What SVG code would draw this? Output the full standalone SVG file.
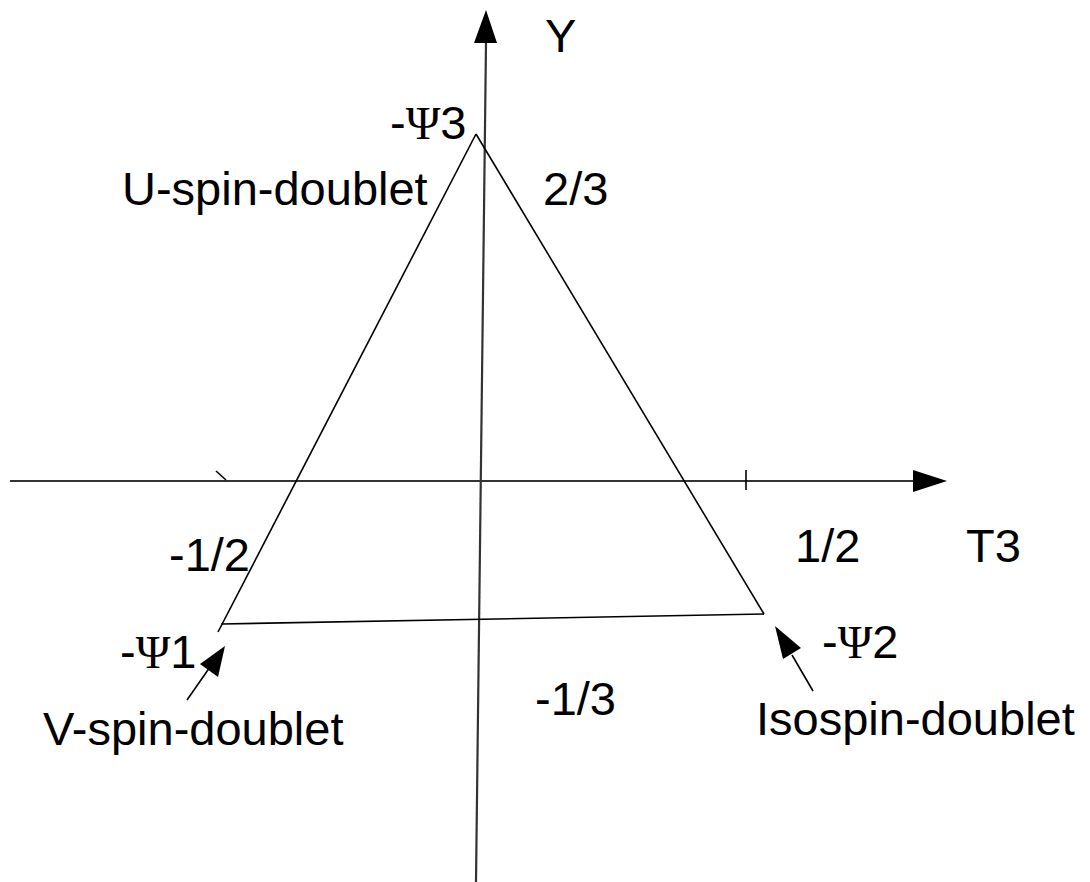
<svg xmlns="http://www.w3.org/2000/svg" width="1090" height="882" viewBox="0 0 1090 882">
<style>
.t{font-family:"Liberation Sans",Arial,sans-serif;font-size:47px;fill:#000}
.g{font-family:"Liberation Serif","Times New Roman",serif}
.ln{stroke:#000;stroke-width:1.6;fill:none}
.ax{stroke:#333;stroke-width:2.2;fill:none}
</style>
<defs>
<marker id="ah" markerWidth="10" markerHeight="10" refX="10" refY="5" orient="auto" markerUnits="userSpaceOnUse" viewBox="0 0 10 10">
<path d="M0,0 L10,5 L0,10 Z" fill="#000"/>
</marker>
</defs>
<rect width="1090" height="882" fill="#fff"/>
<g id="connectors">
<line class="ax" x1="476" y1="882" x2="486" y2="43"/>
<path d="M486,10 L497,43 L474,43 Z" fill="#000"/>
<line class="ax" x1="10" y1="481" x2="913" y2="481"/>
<path d="M947,481 L913,470 L913,492 Z" fill="#000"/>
<line class="ln" x1="746" y1="470" x2="746" y2="490"/>
<line class="ln" x1="216" y1="471" x2="226" y2="480"/>
<line class="ln" x1="187" y1="700" x2="210" y2="667"/>
<path d="M225,646 L218,677 L200,664 Z" fill="#000"/>
<line class="ln" x1="813" y1="691" x2="792" y2="655"/>
<path d="M775,626 L801,648 L783,659 Z" fill="#000"/>
</g>
<g id="triangle">
<line class="ln" x1="476" y1="134" x2="218" y2="632"/>
<line class="ln" x1="476" y1="134" x2="764" y2="614"/>
<line class="ln" x1="221" y1="624" x2="764" y2="614"/>
</g>
<g id="labels">
<text class="t" x="545" y="52">Y</text>
<text class="t" x="390" y="139">-<tspan class="g">Ψ</tspan>3</text>
<text class="t" x="122" y="205">U-spin-doublet</text>
<text class="t" x="543" y="205">2/3</text>
<text class="t" x="169" y="571">-1/2</text>
<text class="t" x="795" y="562">1/2</text>
<text class="t" x="966" y="562">T3</text>
<text class="t" x="120" y="668">-<tspan class="g">Ψ</tspan>1</text>
<text class="t" x="822" y="658">-<tspan class="g">Ψ</tspan>2</text>
<text class="t" x="535" y="715">-1/3</text>
<text class="t" x="43" y="745">V-spin-doublet</text>
<text class="t" x="756" y="735">Isospin-doublet</text>
</g>
</svg>
